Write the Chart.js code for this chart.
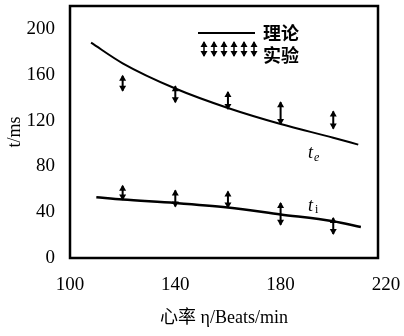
<!DOCTYPE html>
<html lang="zh-CN">
<head>
<meta charset="UTF-8">
<title>心率与时间</title>
<script src="https://cdn.jsdelivr.net/npm/chart.js"></script>
<style>
    body { margin: 0; background: #fff; }
    #wrap { width: 404px; height: 336px; }
</style>
</head>
<body>
<div id="wrap"><canvas id="grafico" width="404" height="336"></canvas></div>
<script>
// valores
var xTicks = [100, 140, 180, 220];
var yTicks = [0, 40, 80, 120, 160, 200];

// curvas teóricas
var teX = [108, 120, 140, 160, 180, 200, 209.5];
var teY = [188, 170, 148, 131, 117, 105, 99];
var tiX = [110, 120, 140, 160, 180, 200, 210.5];
var tiY = [53, 51, 48, 44, 38, 32, 27];

// experimental (faixa min / max)
var expX = [120, 140, 160, 180, 200];
var teAlto = [159, 150, 145, 136, 128];
var teBaixo = [146, 136, 130, 117, 113];
var tiAlto = [63, 59, 58, 48, 35];
var tiBaixo = [51, 45, 44, 29, 21];

function pontos(xs, ys) {
    var out = [];
    for (var i = 0; i < xs.length; i++) out.push({ x: xs[i], y: ys[i] });
    return out;
}

var serif = "'Liberation Serif', 'Noto Sans CJK SC', serif";

function seta(ctx, x, yAlto, yBaixo) {
    ctx.beginPath();
    ctx.moveTo(x, yAlto);
    ctx.lineTo(x, yBaixo);
    ctx.stroke();
    // pontas
    ctx.beginPath();
    ctx.moveTo(x, yAlto - 1);
    ctx.lineTo(x - 3.5, yAlto + 5);
    ctx.lineTo(x + 3.5, yAlto + 5);
    ctx.closePath();
    ctx.fill();
    ctx.beginPath();
    ctx.moveTo(x, yBaixo + 1);
    ctx.lineTo(x - 3.5, yBaixo - 5);
    ctx.lineTo(x + 3.5, yBaixo - 5);
    ctx.closePath();
    ctx.fill();
}

var extras = {
    id: 'extras',
    afterDatasetsDraw: function (chart) {
        var ctx = chart.ctx;
        var xs = chart.scales.x, ys = chart.scales.y;
        var a = chart.chartArea;
        ctx.save();
        ctx.strokeStyle = '#000';
        ctx.fillStyle = '#000';
        ctx.lineWidth = 2;

        // barras experimentais
        for (var i = 0; i < expX.length; i++) {
            var px = xs.getPixelForValue(expX[i]);
            seta(ctx, px, ys.getPixelForValue(teAlto[i]), ys.getPixelForValue(teBaixo[i]));
            seta(ctx, px, ys.getPixelForValue(tiAlto[i]), ys.getPixelForValue(tiBaixo[i]));
        }

        // moldura
        ctx.lineWidth = 2.5;
        ctx.strokeRect(a.left, a.top, a.right - a.left, a.bottom - a.top);

        // legenda
        ctx.lineWidth = 2;
        ctx.beginPath();
        ctx.moveTo(198, 33);
        ctx.lineTo(255, 33);
        ctx.stroke();
        ctx.lineWidth = 1.5;
        for (var k = 0; k < 6; k++) {
            seta(ctx, 204 + k * 10, 42, 56);
        }
        ctx.font = "bold 18px 'Noto Sans CJK SC'";
        ctx.textAlign = 'left';
        ctx.textBaseline = 'middle';
        ctx.fillText('理论', 263, 33);
        ctx.fillText('实验', 263, 55);

        // rótulos das curvas
        ctx.font = "italic 18px 'Liberation Serif'";
        ctx.fillText('t', 308, 153);
        ctx.fillText('t', 308, 206);
        ctx.font = "italic 12px 'Liberation Serif'";
        ctx.fillText('e', 314, 158);
        ctx.font = "12px 'Liberation Serif'";
        ctx.fillText('i', 315, 210);
        ctx.restore();
    }
};

var ctx = document.getElementById('grafico').getContext('2d');
var grafico = new Chart(ctx, {
    type: 'scatter',
    data: {
        datasets: [{
            label: 'te',
            data: pontos(teX, teY),
            showLine: true,
            cubicInterpolationMode: 'monotone',
            borderColor: '#000',
            borderWidth: 2,
            pointRadius: 0
        }, {
            label: 'ti',
            data: pontos(tiX, tiY),
            showLine: true,
            cubicInterpolationMode: 'monotone',
            borderColor: '#000',
            borderWidth: 2.5,
            pointRadius: 0
        }]
    },
    options: {
        responsive: false,
        animation: false,
        layout: { padding: { top: 6, right: 26, left: 0, bottom: 0 } },
        plugins: {
            legend: { display: false },
            tooltip: { enabled: false }
        },
        scales: {
            x: {
                type: 'linear',
                min: 100,
                max: 217,
                afterBuildTicks: function (s) {
                    s.ticks = xTicks.map(function (v) { return { value: v }; });
                },
                afterFit: function (s) { s.height = 78; s.paddingLeft = 0; s.paddingRight = 0; },
                grid: { display: false, drawTicks: false },
                border: { display: false },
                ticks: {
                    color: '#000',
                    padding: 16,
                    maxRotation: 0,
                    font: { family: serif, size: 19 }
                },
                title: {
                    display: true,
                    text: '心率 η/Beats/min',
                    color: '#000',
                    padding: { top: 0, bottom: 7 },
                    font: { family: serif, size: 18 }
                }
            },
            y: {
                min: 0,
                max: 220,
                afterBuildTicks: function (s) {
                    s.ticks = yTicks.map(function (v) { return { value: v }; });
                },
                afterFit: function (s) { s.width = 70; s.paddingTop = 0; s.paddingBottom = 0; },
                grid: { display: false, drawTicks: false },
                border: { display: false },
                ticks: {
                    color: '#000',
                    padding: 15,
                    font: { family: serif, size: 19 }
                },
                title: {
                    display: true,
                    text: 't/ms',
                    color: '#000',
                    padding: { top: 4, bottom: 0 },
                    font: { family: serif, size: 18 }
                }
            }
        }
    },
    plugins: [extras]
});
</script>
</body>
</html>
